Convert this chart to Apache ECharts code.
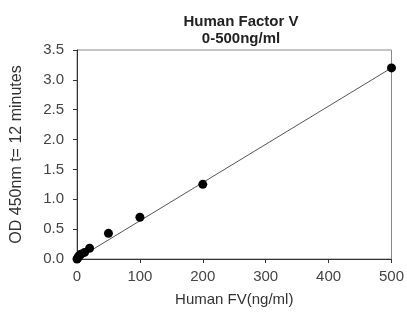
<!DOCTYPE html>
<html>
<head>
<meta charset="utf-8">
<script src="https://cdn.jsdelivr.net/npm/echarts@6/dist/echarts.min.js"></script>
<style>
  html, body { margin: 0; padding: 0; background: #fff; }
  #chart { width: 407px; height: 320px; }
</style>
</head>
<body>
<div id="chart"></div>
<script>
// standard points: concentration (ng/ml) and OD 450nm
const concentrations = [0, 1.5, 3, 6, 12, 20, 50, 100, 200, 500];
const odValues = [0.0, 0.02, 0.05, 0.08, 0.11, 0.18, 0.43, 0.70, 1.25, 3.2];

// linear fit drawn through the standards
const fitX = [0, 500];
const fitY = [0.0, 3.2];

const xTicks = [0, 100, 200, 300, 400, 500];

const chart = echarts.init(document.getElementById("chart"));

const option = {
  animation: false,
  textStyle: { fontFamily: "Liberation Sans, Arial, sans-serif" },
  title: {
    text: "Human Factor V\n0-500ng/ml",
    left: 236,
    top: 8,
    textAlign: "center",
    textStyle: {
      fontSize: 15,
      fontWeight: "bold",
      color: "#222",
      lineHeight: 17,
    },
  },
  grid: {
    left: 77,
    right: 11,
    top: 50,
    bottom: 61,
    show: true,
    borderColor: "#888",
    borderWidth: 1,
  },
  xAxis: {
    type: "value",
    min: xTicks[0],
    max: xTicks[xTicks.length - 1],
    interval: 100,
    name: "Human FV(ng/ml)",
    nameLocation: "middle",
    nameGap: 33,
    nameTextStyle: { fontSize: 15, color: "#333" },
    axisLine: { show: true, lineStyle: { color: "#333" } },
    axisTick: { show: true, length: 4, lineStyle: { color: "#333" } },
    axisLabel: { fontSize: 15, color: "#444", margin: 10 },
    splitLine: { show: false },
  },
  yAxis: {
    type: "value",
    min: 0,
    max: 3.5,
    interval: 0.5,
    name: "OD 450nm t= 12 minutes",
    nameLocation: "middle",
    nameGap: 52,
    nameTextStyle: { fontSize: 16, color: "#333" },
    axisLine: { show: true, lineStyle: { color: "#333" } },
    axisTick: { show: true, length: 4, lineStyle: { color: "#333" } },
    axisLabel: {
      fontSize: 15,
      color: "#444",
      margin: 13,
      formatter: (v) => v.toFixed(1),
    },
    splitLine: { show: false },
  },
  series: [
    {
      name: "Fit",
      type: "line",
      data: fitX.map((x, i) => [x, fitY[i]]),
      showSymbol: false,
      lineStyle: { color: "#555", width: 1 },
      z: 1,
    },
    {
      name: "Standards",
      type: "scatter",
      data: concentrations.map((x, i) => [x, odValues[i]]),
      symbolSize: 9,
      itemStyle: { color: "#000", opacity: 1 },
      z: 2,
    },
  ],
};

chart.setOption(option);
</script>
</body>
</html>
